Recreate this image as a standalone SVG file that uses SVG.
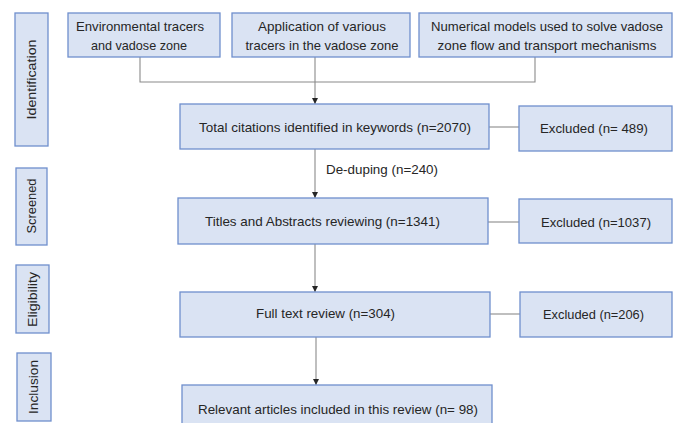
<svg xmlns="http://www.w3.org/2000/svg" width="676" height="423" viewBox="0 0 676 423">
<style>
.box{fill:#dae3f3;stroke:#6f8fcd;stroke-width:1.3}
.t{font-family:"Liberation Sans",Arial,sans-serif;font-size:13px;fill:#262626;text-anchor:middle;dominant-baseline:central}
.c{fill:none;stroke:#8a8a8a;stroke-width:1.1}
</style>
<defs>
<marker id="ah" viewBox="0 0 10 10" refX="10" refY="5" markerWidth="6" markerHeight="6" orient="auto" markerUnits="userSpaceOnUse">
<path d="M0,0 L10,5 L0,10 z" fill="#262626"/>
</marker>
</defs>
<rect width="676" height="423" fill="#ffffff"/>
<g id="stage-identification"><rect class="box" x="15" y="13" width="33" height="133"/><text class="t" transform="translate(31.5,79.5) rotate(-90)" textLength="80" lengthAdjust="spacingAndGlyphs">Identification</text></g>
<g id="stage-screened"><rect class="box" x="16" y="168" width="31" height="77"/><text class="t" transform="translate(31.5,206) rotate(-90)" textLength="55" lengthAdjust="spacingAndGlyphs">Screened</text></g>
<g id="stage-eligibility"><rect class="box" x="16" y="265" width="33" height="68"/><text class="t" transform="translate(32.5,299.5) rotate(-90)" textLength="55" lengthAdjust="spacingAndGlyphs">Eligibility</text></g>
<g id="stage-inclusion"><rect class="box" x="17" y="353" width="34" height="68"/><text class="t" transform="translate(33.5,387) rotate(-90)" textLength="54" lengthAdjust="spacingAndGlyphs">Inclusion</text></g>
<g id="connectors">
<path class="c" d="M140,57 V82 H535 V57"/>
<path class="c" d="M315,57 V104" marker-end="url(#ah)"/>
<path class="c" d="M315,149 V198" marker-end="url(#ah)"/>
<path class="c" d="M315,244 V292" marker-end="url(#ah)"/>
<path class="c" d="M316,337 V385" marker-end="url(#ah)"/>
<path class="c" d="M489,127 H519"/>
<path class="c" d="M488,222 H519"/>
<path class="c" d="M490,314 H520"/>
</g>
<g id="src-env"><rect class="box" x="68" y="13" width="152" height="44"/><text class="t" x="140" y="26" textLength="128" lengthAdjust="spacingAndGlyphs">Environmental tracers</text><text class="t" x="139" y="45" textLength="96" lengthAdjust="spacingAndGlyphs">and vadose zone</text></g>
<g id="src-app"><rect class="box" x="232" y="13" width="178" height="44"/><text class="t" x="322" y="26" textLength="128" lengthAdjust="spacingAndGlyphs">Application of various</text><text class="t" x="322" y="45" textLength="153" lengthAdjust="spacingAndGlyphs">tracers in the vadose zone</text></g>
<g id="src-num"><rect class="box" x="419" y="13" width="253" height="44"/><text class="t" x="547" y="26" textLength="232" lengthAdjust="spacingAndGlyphs">Numerical models used to solve vadose</text><text class="t" x="547" y="45" textLength="219" lengthAdjust="spacingAndGlyphs">zone flow and transport mechanisms</text></g>
<g id="total"><rect class="box" x="180" y="104" width="309" height="45"/><text class="t" x="335" y="127" textLength="272" lengthAdjust="spacingAndGlyphs">Total citations identified in keywords (n=2070)</text></g>
<g id="excl1"><rect class="box" x="519" y="106" width="153" height="45"/><text class="t" x="594" y="128" textLength="108" lengthAdjust="spacingAndGlyphs">Excluded (n= 489)</text></g>
<g id="dedup-label"><text class="t" x="382" y="169" textLength="112" lengthAdjust="spacingAndGlyphs">De-duping  (n=240)</text></g>
<g id="titles"><rect class="box" x="178" y="198" width="310" height="46"/><text class="t" x="322.5" y="221" textLength="235" lengthAdjust="spacingAndGlyphs">Titles and Abstracts  reviewing (n=1341)</text></g>
<g id="excl2"><rect class="box" x="519" y="199" width="153" height="44"/><text class="t" x="596" y="222" textLength="110" lengthAdjust="spacingAndGlyphs">Excluded (n=1037)</text></g>
<g id="fulltext"><rect class="box" x="180" y="292" width="310" height="45"/><text class="t" x="325.5" y="313" textLength="139" lengthAdjust="spacingAndGlyphs">Full text review (n=304)</text></g>
<g id="excl3"><rect class="box" x="520" y="292" width="152" height="45"/><text class="t" x="593.5" y="314" textLength="101" lengthAdjust="spacingAndGlyphs">Excluded (n=206)</text></g>
<g id="included"><rect class="box" x="182" y="385" width="310" height="50"/><text class="t" x="338" y="409" textLength="280" lengthAdjust="spacingAndGlyphs">Relevant articles included in this review  (n= 98)</text></g>
</svg>
